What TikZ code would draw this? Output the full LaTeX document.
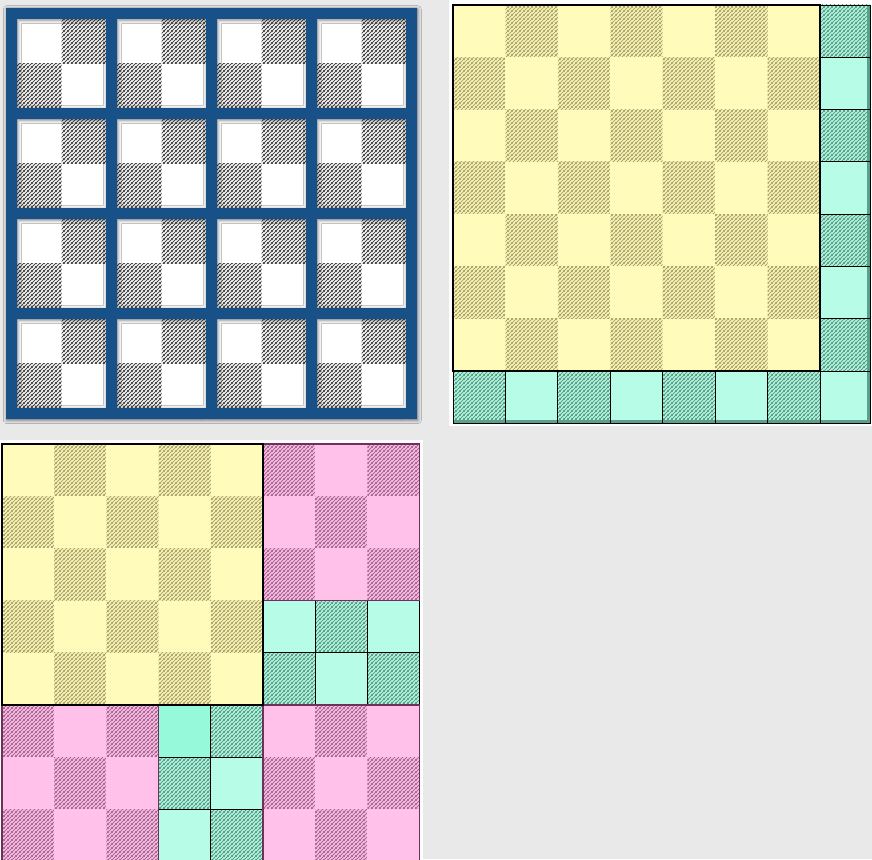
\documentclass[tikz,border=0pt]{standalone}
\usetikzlibrary{patterns.meta,shadows.blur}
\definecolor{bg}{RGB}{233,233,233}
\definecolor{gridblue}{RGB}{24,80,136}
\definecolor{hatchgray}{RGB}{70,70,70}
\definecolor{yel}{RGB}{255,251,186}
\definecolor{yelhatch}{RGB}{170,164,110}
\definecolor{pnk}{RGB}{255,192,234}
\definecolor{pnkhatch}{RGB}{165,105,145}
\definecolor{pnkborder}{RGB}{110,50,90}
\definecolor{cyn}{RGB}{183,252,230}
\definecolor{cynhi}{RGB}{150,250,218}
\definecolor{cynhatch}{RGB}{90,155,133}
\definecolor{cynshade}{RGB}{90,160,140}

\tikzdeclarepattern{
  name=hatch,
  parameters={\hatchsize,\hatchlw},
  bounding box={(0,0) and (\hatchsize,\hatchsize)},
  tile size={(\hatchsize,\hatchsize)},
  defaults={size/.store in=\hatchsize,size=4pt,lw/.store in=\hatchlw,lw=1.2pt},
  code={
    \draw[line width=\hatchlw] (-1pt,-1pt) -- (\hatchsize+1pt,\hatchsize+1pt);
    \draw[line width=\hatchlw] (-1pt,\hatchsize-1pt) -- (1pt,\hatchsize+1pt);
    \draw[line width=\hatchlw] (\hatchsize-1pt,-1pt) -- (\hatchsize+1pt,1pt);
  }
}

\tikzset{
  grayhatch/.style={pattern={hatch[size=4pt,lw=1.25pt]},pattern color=hatchgray},
  yelhatched/.style={pattern={hatch[size=4pt,lw=1.2pt]},pattern color=yelhatch},
  pnkhatched/.style={pattern={hatch[size=4pt,lw=1.2pt]},pattern color=pnkhatch},
  cynhatched/.style={pattern={hatch[size=4pt,lw=1.2pt]},pattern color=cynhatch},
  bluebar/.style={fill=gridblue,blur shadow={shadow xshift=0.8pt,shadow yshift=-1.2pt,shadow blur radius=3.5pt,shadow opacity=50}},
  cellline/.style={draw=black,line width=0.9pt},
  yelborder/.style={draw=black,line width=1.3pt},
  pnkedge/.style={draw=pnkborder,line width=1.3pt},
}

\begin{document}
\begin{tikzpicture}[x=1pt,y=-1pt]
\useasboundingbox (0,0) rectangle (872,859);
\clip (0,0) rectangle (872,859);
\fill[bg] (0,0) rectangle (872,859);

% ---------- Panel 1 ----------
\fill[white] (6,8) rectangle (417,419);
\foreach \i in {0,...,7}{
  \foreach \j in {0,...,7}{
    \pgfmathsetmacro\cx{17+int(\i/2)*100+mod(\i,2)*44.5}
    \pgfmathsetmacro\cy{19+int(\j/2)*100+mod(\j,2)*44.5}
    \pgfmathtruncatemacro\pty{mod(\i+\j,2)}
    \ifnum\pty=1
      \fill[grayhatch] (\cx,\cy) rectangle ++(44.5,44.5);
    \fi
  }
}
\path[bluebar]
  \foreach \k in {0,...,4}{ (6+100*\k,8) rectangle ++(11,411) }
  \foreach \k in {0,...,4}{ (6,8+100*\k) rectangle ++(411,11) };

% ---------- Panel 2 ----------
\fill[white] (449,0) rectangle (872,426);
\foreach \i in {0,...,6}{
  \foreach \j in {0,...,6}{
    \pgfmathsetmacro\cx{453+\i*52.43}
    \pgfmathsetmacro\cy{5+\j*52.29}
    \pgfmathtruncatemacro\pty{mod(\i+\j,2)}
    \fill[yel] (\cx,\cy) rectangle ++(52.43,52.29);
    \ifnum\pty=1
      \fill[yelhatched] (\cx,\cy) rectangle ++(52.43,52.29);
    \fi
  }
}
\draw[yelborder] (453,5) rectangle (820,371);
% right column
\foreach \j in {0,...,6}{
  \pgfmathsetmacro\cy{5+\j*52.29}
  \pgfmathtruncatemacro\pty{mod(7+\j,2)}
  \fill[cyn] (820,\cy) rectangle ++(50,52.29);
  \ifnum\pty=1
    \fill[cynhatched] (820,\cy) rectangle ++(50,52.29);
  \fi
  \fill[cynshade] (867,\cy) rectangle ++(3,52.29);
  \draw[cellline] (820,\cy) rectangle ++(50,52.29);
}
% bottom row
\foreach \i in {0,...,6}{
  \pgfmathsetmacro\cx{453+\i*52.43}
  \pgfmathtruncatemacro\pty{mod(7+\i,2)}
  \fill[cyn] (\cx,371) rectangle ++(52.43,52);
  \ifnum\pty=1
    \fill[cynhatched] (\cx,371) rectangle ++(52.43,52);
  \fi
  \fill[cynshade] (\cx,420) rectangle ++(52.43,3);
  \draw[cellline] (\cx,371) rectangle ++(52.43,52);
}
\fill[cyn] (820,371) rectangle (870,423);
\fill[cynshade] (820,420) rectangle (870,423);
\fill[cynshade] (867,371) rectangle (870,423);
\draw[cellline] (820,371) rectangle (870,423);

% ---------- Panel 3 ----------
\fill[white] (0,440) rectangle (423,859);
\def\ox{2}\def\oy{444}\def\cs{52.2}
\foreach \i in {0,...,7}{
  \foreach \j in {0,...,7}{
    \pgfmathsetmacro\cx{\ox+\i*\cs}
    \pgfmathsetmacro\cy{\oy+\j*\cs}
    \pgfmathtruncatemacro\pty{mod(\i+\j,2)}
    % region: 0 yellow, 1 pink, 2 cyan
    \pgfmathtruncatemacro\reg{(\i<5 && \j<5) ? 0 : ((\i>4 && \j>2 && \j<5) || (\i>2 && \i<5 && \j>4) ? 2 : 1)}
    \ifcase\reg
      \fill[yel] (\cx,\cy) rectangle ++(\cs,\cs);
      \ifnum\pty=1 \fill[yelhatched] (\cx,\cy) rectangle ++(\cs,\cs); \fi
    \or
      \fill[pnk] (\cx,\cy) rectangle ++(\cs,\cs);
      \ifnum\pty=1 \fill[pnkhatched] (\cx,\cy) rectangle ++(\cs,\cs); \fi
    \or
      \fill[cyn] (\cx,\cy) rectangle ++(\cs,\cs);
      \ifnum\pty=1 \fill[cynhatched] (\cx,\cy) rectangle ++(\cs,\cs); \fi
    \fi
  }
}
% highlighted cyan cell
\fill[cynhi] (\ox+3*\cs,\oy+5*\cs) rectangle ++(\cs,\cs);
% cyan cell borders
\foreach \i/\j in {5/3,6/3,7/3,5/4,6/4,7/4,3/5,4/5,3/6,4/6,3/7,4/7}{
  \draw[cellline] (\ox+\i*\cs,\oy+\j*\cs) rectangle ++(\cs,\cs);
}
% region borders
\draw[pnkedge] (\ox+5*\cs,\oy) rectangle ++(3*\cs,3*\cs);
\draw[pnkedge] (\ox,\oy+5*\cs) rectangle ++(3*\cs,3*\cs);
\draw[pnkedge] (\ox+5*\cs,\oy+5*\cs) rectangle ++(3*\cs,3*\cs);
\draw[yelborder] (\ox,\oy) rectangle ++(5*\cs,5*\cs);
\end{tikzpicture}
\end{document}
